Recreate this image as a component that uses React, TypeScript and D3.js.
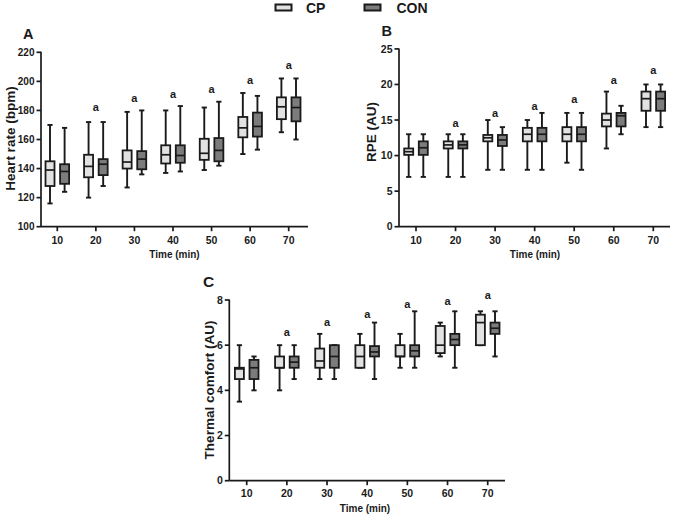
import React from "react";
import * as d3 from "d3";

// ---- data ----
const times = [10, 20, 30, 40, 50, 60, 70];
const groups = ["CP", "CON"];
// five-number summaries: [min, q1, median, q3, max]
const hrCP = [
  [116, 128, 139, 145, 170],
  [120, 134, 141.5, 149.5, 172],
  [127, 140, 144.5, 152.5, 179],
  [137, 143.5, 149.5, 156, 180],
  [139, 146, 150.5, 160.5, 182],
  [150, 161.5, 168, 175.5, 192],
  [165, 174, 182.5, 189, 202],
];
const hrCON = [
  [124, 129.5, 138, 143, 168],
  [128, 135.5, 143, 146.5, 172],
  [136, 139.5, 146.5, 152, 180],
  [138, 144, 149, 156, 183],
  [142, 145, 152.5, 161, 186],
  [153, 162, 169, 178.5, 190],
  [160, 172.5, 182, 189, 202],
];
const hrSig = [null, 181.5, 188, 190.6, 194, 200.5, 210.8];

const rpeCP = [
  [7, 10.1, 10.55, 11, 13],
  [7, 11, 11.5, 12, 13],
  [8, 12, 12.5, 12.9, 15],
  [8, 12, 13, 13.9, 15],
  [9, 12, 13, 14, 16],
  [11, 14.1, 15, 15.9, 19],
  [14, 16.3, 18, 19, 20],
];
const rpeCON = [
  [7, 10.1, 11.1, 12, 13],
  [7, 11, 11.5, 12, 13],
  [8, 11.35, 12.2, 12.9, 14],
  [8, 12, 13, 13.9, 16],
  [8, 12, 13, 14, 16],
  [13, 14.1, 15.6, 16, 17],
  [14, 16.3, 18, 19, 20],
];
const rpeSig = [null, 14.4, 15.9, 16.9, 17.8, 20.5, 21.9];

const tcCP = [
  [3.5, 4.5, 4.95, 5, 6],
  [4, 5, 5, 5.5, 6],
  [4.5, 5, 5.3, 5.85, 6.5],
  [5, 5, 5.5, 6, 6.5],
  [5, 5.5, 5.5, 6, 6.5],
  [5.5, 5.65, 6, 6.85, 7],
  [6, 6, 7, 7.35, 7.5],
];
const tcCON = [
  [4, 4.5, 5, 5.35, 5.5],
  [4.5, 5, 5.25, 5.5, 6],
  [4.5, 5, 5.5, 6, 6],
  [4.5, 5.5, 5.7, 5.96, 7],
  [5, 5.5, 5.75, 6, 7.5],
  [5, 6, 6.25, 6.5, 7.5],
  [5.5, 6.5, 6.75, 7, 7.5],
];
const tcSig = [null, 6.52, 7.0, 7.34, 7.8, 7.93, 8.19];

const hrTicks = [100, 120, 140, 160, 180, 200, 220];
const rpeTicks = [0, 5, 10, 15, 20, 25];
const tcTicks = [0, 2, 4, 6, 8];

// ---- styles ----
const FONT = "'Liberation Sans', Arial, Helvetica, sans-serif";
const INK = "#1a1a1a";
const FILLS = { CP: "#e2e2e2", CON: "#7c7c7c" };

type Cfg = {
  letter: string;
  yLabel: string;
  cp: number[][];
  con: number[][];
  sig: (number | null)[];
  yDomain: [number, number];
  yTicks: number[];
  axX: number;
  yTop: number;
  yBot: number;
  x0: number;
  x1: number;
  xEnd: number;
  letterX: number;
  letterY: number;
  letterSize: number;
  labelX: number;
  labelY: number;
  yTickFont: number;
  xTickBase: number;
  timeBase: number;
  timeX: number;
};

function Panel({ c }: { c: Cfg }) {
  const x = d3.scaleLinear().domain([10, 70]).range([c.x0, c.x1]);
  const y = d3.scaleLinear().domain(c.yDomain).range([c.yBot, c.yTop]);
  const off = 7.3;
  const hw = 4.5;
  const cap = 2.6;
  const sw = 1.9;
  const boxes: JSX.Element[] = [];
  times.forEach((t, i) => {
    groups.forEach((g, gi) => {
      const d = (g === "CP" ? c.cp : c.con)[i];
      const cx = x(t) + (gi === 0 ? -off : off);
      const [mn, q1, md, q3, mx] = d;
      boxes.push(
        <g key={`${t}-${g}`}>
          <line x1={cx} x2={cx} y1={y(mx)} y2={y(q3)} stroke={INK} strokeWidth={sw} />
          <line x1={cx} x2={cx} y1={y(q1)} y2={y(mn)} stroke={INK} strokeWidth={sw} />
          <line x1={cx - cap} x2={cx + cap} y1={y(mx)} y2={y(mx)} stroke={INK} strokeWidth={sw} />
          <line x1={cx - cap} x2={cx + cap} y1={y(mn)} y2={y(mn)} stroke={INK} strokeWidth={sw} />
          <rect
            x={cx - hw}
            y={y(q3)}
            width={hw * 2}
            height={Math.max(0.01, y(q1) - y(q3))}
            fill={FILLS[g as "CP" | "CON"]}
            stroke={INK}
            strokeWidth={1.8}
          />
          <line x1={cx - hw} x2={cx + hw} y1={y(md)} y2={y(md)} stroke={INK} strokeWidth={1.7} />
        </g>
      );
    });
  });
  return (
    <g fontFamily={FONT} fontWeight="bold" fill={INK}>
      {/* axes */}
      <line x1={c.axX} x2={c.axX} y1={c.yTop - 0.5} y2={c.yBot} stroke={INK} strokeWidth={1.7} />
      <line x1={c.axX} x2={c.xEnd} y1={c.yBot} y2={c.yBot} stroke={INK} strokeWidth={1.7} />
      {c.yTicks.map((v) => (
        <g key={`yt${v}`}>
          <line x1={c.axX - 4.5} x2={c.axX} y1={y(v)} y2={y(v)} stroke={INK} strokeWidth={1.7} />
          <text x={c.axX - 6.5} y={y(v)} dy="0.35em" textAnchor="end" fontSize={c.yTickFont}>
            {v}
          </text>
        </g>
      ))}
      {times.map((t) => (
        <g key={`xt${t}`}>
          <line x1={x(t)} x2={x(t)} y1={c.yBot} y2={c.yBot + 4.5} stroke={INK} strokeWidth={1.7} />
          <text x={x(t)} y={c.xTickBase} textAnchor="middle" fontSize={10.5}>
            {t}
          </text>
        </g>
      ))}
      {boxes}
      {times.map((t, i) =>
        c.sig[i] == null ? null : (
          <text key={`sig${t}`} x={x(t)} y={y(c.sig[i] as number) + 3} textAnchor="middle" fontSize={11}>
            a
          </text>
        )
      )}
      <text x={c.timeX} y={c.timeBase} textAnchor="middle" fontSize={10}>
        Time (min)
      </text>
      <text
        transform={`translate(${c.labelX},${c.labelY}) rotate(-90)`}
        textAnchor="middle"
        dy="0.35em"
        fontSize={13.5}
      >
        {c.yLabel}
      </text>
      <text x={c.letterX} y={c.letterY} fontSize={c.letterSize}>
        {c.letter}
      </text>
    </g>
  );
}

const panels: Cfg[] = [
  {
    letter: "A",
    yLabel: "Heart rate (bpm)",
    cp: hrCP,
    con: hrCON,
    sig: hrSig,
    yDomain: [100, 220],
    yTicks: hrTicks,
    axX: 41,
    yTop: 52.3,
    yBot: 226.7,
    x0: 57.3,
    x1: 288.7,
    xEnd: 308,
    letterX: 23,
    letterY: 38.5,
    letterSize: 14.5,
    labelX: 10.5,
    labelY: 138.5,
    yTickFont: 10,
    xTickBase: 244,
    timeBase: 258,
    timeX: 174.5,
  },
  {
    letter: "B",
    yLabel: "RPE (AU)",
    cp: rpeCP,
    con: rpeCON,
    sig: rpeSig,
    yDomain: [0, 25],
    yTicks: rpeTicks,
    axX: 399,
    yTop: 48.9,
    yBot: 226.7,
    x0: 416,
    x1: 653.3,
    xEnd: 670,
    letterX: 381.5,
    letterY: 35.5,
    letterSize: 14.5,
    labelX: 371.7,
    labelY: 132,
    yTickFont: 10.5,
    xTickBase: 243.5,
    timeBase: 258,
    timeX: 535,
  },
  {
    letter: "C",
    yLabel: "Thermal comfort (AU)",
    cp: tcCP,
    con: tcCON,
    sig: tcSig,
    yDomain: [0, 8],
    yTicks: tcTicks,
    axX: 229.3,
    yTop: 300,
    yBot: 480.7,
    x0: 246.7,
    x1: 487.7,
    xEnd: 505,
    letterX: 203,
    letterY: 287,
    letterSize: 15.5,
    labelX: 209,
    labelY: 390,
    yTickFont: 10.5,
    xTickBase: 496.5,
    timeBase: 512,
    timeX: 365,
  },
];

const legendItems = [
  { key: "CP", boxX: 275.5, textX: 306 },
  { key: "CON", boxX: 364.5, textX: 396.5 },
];

export default function App() {
  return (
    <svg
      width={674}
      height={517}
      viewBox="0 0 674 517"
      style={{ position: "absolute", left: 0, top: 0, background: "#fff" }}
    >
      <rect width={674} height={517} fill="#fff" />
      {legendItems.map((l) => (
        <g key={l.key} fontFamily={FONT} fontWeight="bold" fill={INK}>
          <rect
            x={l.boxX}
            y={4.5}
            width={16}
            height={6}
            fill={FILLS[l.key as "CP" | "CON"]}
            stroke={INK}
            strokeWidth={2}
          />
          <text x={l.textX} y={12.7} fontSize={14}>
            {l.key}
          </text>
        </g>
      ))}
      {panels.map((p) => (
        <Panel key={p.letter} c={p} />
      ))}
    </svg>
  );
}
